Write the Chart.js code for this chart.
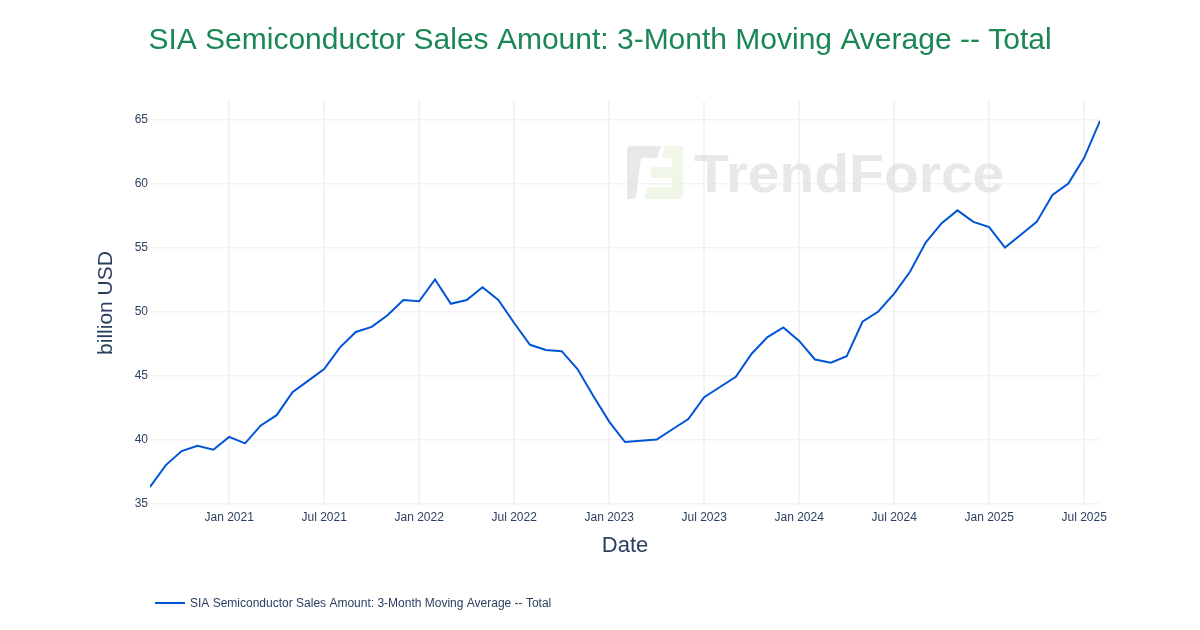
<!DOCTYPE html>
<html>
<head>
<meta charset="utf-8">
<script src="https://cdn.jsdelivr.net/npm/chart.js@4/dist/chart.umd.min.js"></script>
<style>
  html, body { margin: 0; padding: 0; background: #ffffff; }
  #wrap { width: 1200px; height: 630px; position: relative; }
</style>
</head>
<body>
<div id="wrap"><canvas id="c" width="1200" height="630"></canvas></div>
<script>
// ---- data ----
const chartTitle = 'SIA Semiconductor Sales Amount: 3-Month Moving Average -- Total';
const seriesName = 'SIA Semiconductor Sales Amount: 3-Month Moving Average -- Total';
const yAxisTitle = 'billion USD';
const xAxisTitle = 'Date';
const months = [
  '2020-08','2020-09','2020-10','2020-11','2020-12',
  '2021-01','2021-02','2021-03','2021-04','2021-05','2021-06','2021-07','2021-08','2021-09','2021-10','2021-11','2021-12',
  '2022-01','2022-02','2022-03','2022-04','2022-05','2022-06','2022-07','2022-08','2022-09','2022-10','2022-11','2022-12',
  '2023-01','2023-02','2023-03','2023-04','2023-05','2023-06','2023-07','2023-08','2023-09','2023-10','2023-11','2023-12',
  '2024-01','2024-02','2024-03','2024-04','2024-05','2024-06','2024-07','2024-08','2024-09','2024-10','2024-11','2024-12',
  '2025-01','2025-02','2025-03','2025-04','2025-05','2025-06','2025-07','2025-08'
];
const salesValues = [
  36.3, 38.0, 39.1, 39.5, 39.2,
  40.2, 39.7, 41.1, 41.9, 43.7, 44.6, 45.5, 47.2, 48.4, 48.8, 49.7, 50.9,
  50.8, 52.5, 50.6, 50.9, 51.9, 50.9, 49.1, 47.4, 47.0, 46.9, 45.5, 43.4,
  41.4, 39.8, 39.9, 40.0, 40.8, 41.6, 43.3, 44.1, 44.9, 46.7, 48.0, 48.75,
  47.7, 46.25, 46.0, 46.5, 49.2, 50.0, 51.4, 53.1, 55.4, 56.9, 57.9, 57.0,
  56.6, 55.0, 56.0, 57.0, 59.1, 60.0, 62.0, 64.9
];
const xTickMonths = ['2021-01','2021-07','2022-01','2022-07','2023-01','2023-07','2024-01','2024-07','2025-01','2025-07'];
const xTickLabels = ['Jan 2021','Jul 2021','Jan 2022','Jul 2022','Jan 2023','Jul 2023','Jan 2024','Jul 2024','Jan 2025','Jul 2025'];
const yTickValues = [35, 40, 45, 50, 55, 60, 65];
const yRange = [34.883, 66.445];

// ---- styling ----
const FONT = '"Liberation Sans", Arial, sans-serif';
const TEXT = '#2a3f5f';
const GRID = '#f3f3f3';
const LINE = '#0055d6';

const points = salesValues.map((v, i) => ({ x: i, y: v }));
const xTickPos = xTickMonths.map(m => months.indexOf(m));

const overlay = {
  id: 'overlay',
  beforeDatasetsDraw(chart) {
    const ctx = chart.ctx;
    ctx.save();
    // watermark logo
    ctx.fillStyle = 'rgba(226,226,226,0.8)';
    ctx.beginPath();
    ctx.moveTo(629, 146); ctx.lineTo(661, 146); ctx.lineTo(657, 158);
    ctx.lineTo(641, 158); ctx.lineTo(636, 197); ctx.quadraticCurveTo(634, 199, 631, 199);
    ctx.lineTo(627, 199); ctx.lineTo(627, 149); ctx.closePath(); ctx.fill();
    ctx.fillStyle = 'rgba(238,246,228,0.85)';
    ctx.beginPath();
    ctx.moveTo(665, 146); ctx.lineTo(683, 146); ctx.lineTo(683, 196); ctx.quadraticCurveTo(683, 199, 680, 199);
    ctx.lineTo(644, 199); ctx.lineTo(647, 187); ctx.lineTo(671, 187); ctx.lineTo(672, 178);
    ctx.lineTo(650, 178); ctx.lineTo(652, 167); ctx.lineTo(672, 167); ctx.lineTo(672, 158);
    ctx.lineTo(661, 158); ctx.closePath(); ctx.fill();
    // watermark text (stretched horizontally)
    ctx.fillStyle = 'rgba(226,226,226,0.8)';
    ctx.font = 'bold 53px ' + FONT;
    ctx.textAlign = 'left';
    ctx.textBaseline = 'alphabetic';
    ctx.translate(694, 192);
    ctx.scale(1.075, 1);
    ctx.fillText('TrendForce', 0, 0);
    ctx.restore();
  },
  afterDraw(chart) {
    const ctx = chart.ctx;
    const a = chart.chartArea;
    ctx.save();
    // title
    ctx.fillStyle = '#1a8754';
    ctx.font = '30px ' + FONT;
    ctx.textAlign = 'center';
    ctx.textBaseline = 'middle';
    ctx.fillText(chartTitle, 600, 41);
    // x axis title
    ctx.fillStyle = TEXT;
    ctx.font = '22px ' + FONT;
    ctx.fillText(xAxisTitle, (a.left + a.right) / 2, 546);
    // y axis title
    ctx.save();
    ctx.translate(106, (a.top + a.bottom) / 2);
    ctx.rotate(-Math.PI / 2);
    ctx.font = '21px ' + FONT;
    ctx.fillText(yAxisTitle, 0, 0);
    ctx.restore();
    // legend
    ctx.strokeStyle = LINE;
    ctx.lineWidth = 2;
    ctx.beginPath(); ctx.moveTo(155, 603); ctx.lineTo(185, 603); ctx.stroke();
    ctx.fillStyle = TEXT;
    ctx.font = '12px ' + FONT;
    ctx.textAlign = 'left';
    ctx.fillText(seriesName, 190, 604);
    ctx.restore();
  }
};

new Chart(document.getElementById('c'), {
  type: 'line',
  data: {
    datasets: [{
      label: seriesName,
      data: points,
      borderColor: LINE,
      borderWidth: 2,
      pointRadius: 0,
      tension: 0,
      fill: false
    }]
  },
  options: {
    responsive: false,
    animation: false,
    devicePixelRatio: 1,
    layout: { padding: { top: 101, right: 100, left: 0, bottom: 0 } },
    plugins: { legend: { display: false }, title: { display: false }, tooltip: { enabled: false } },
    scales: {
      x: {
        type: 'linear',
        min: 0,
        max: months.length - 1,
        afterBuildTicks(scale) { scale.ticks = xTickPos.map(v => ({ value: v })); },
        afterFit(scale) { scale.height = 125; },
        ticks: {
          autoSkip: false,
          maxRotation: 0,
          padding: 5,
          color: TEXT,
          font: { family: FONT, size: 12 },
          callback(value) { const i = xTickPos.indexOf(value); return i >= 0 ? xTickLabels[i] : ''; }
        },
        grid: { color: GRID, lineWidth: 2, drawTicks: false },
        border: { display: false }
      },
      y: {
        type: 'linear',
        min: yRange[0],
        max: yRange[1],
        afterBuildTicks(scale) { scale.ticks = yTickValues.map(v => ({ value: v })); },
        afterFit(scale) { scale.width = 150; },
        ticks: {
          padding: 2,
          color: TEXT,
          font: { family: FONT, size: 12 },
          callback(value) { return String(value); }
        },
        grid: { color: GRID, lineWidth: 1.5, drawTicks: false },
        border: { display: false }
      }
    }
  },
  plugins: [overlay]
});
</script>
</body>
</html>
